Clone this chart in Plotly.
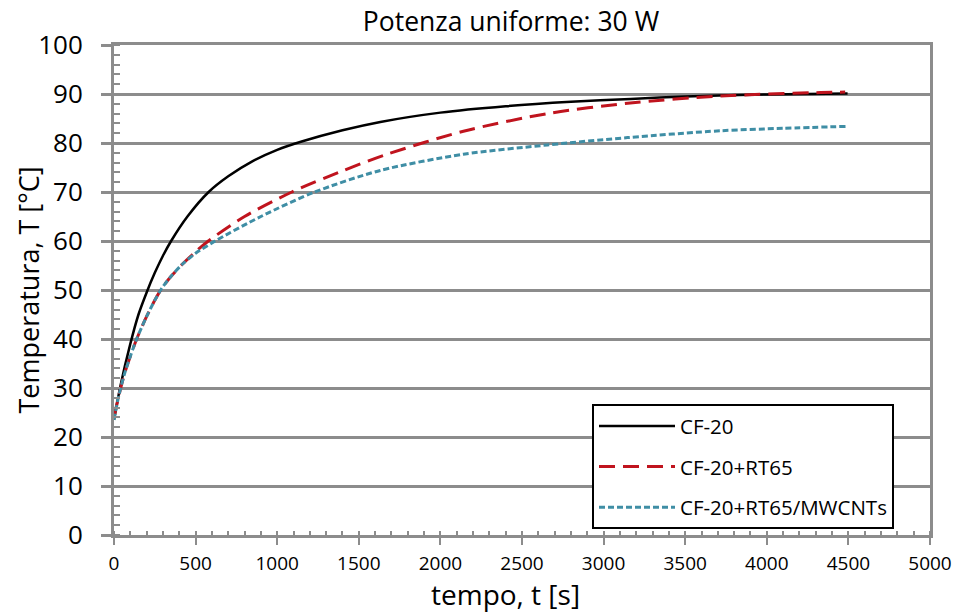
import plotly.graph_objects as go

# Heating curves under uniform 30 W power: time [s] vs temperature [°C]
t_cf20 = [0, 40, 100, 150, 200, 250, 300, 350, 450, 580, 700, 850, 1000,
          1150, 1400, 1632, 2000, 2400, 2800, 3166, 3500, 4000, 4495]
T_cf20 = [23.5, 30.5, 39.0, 45.0, 49.5, 53.5, 57.0, 60.0, 65.0, 70.0, 73.2,
          76.3, 78.6, 80.3, 82.6, 84.3, 86.2, 87.5, 88.4, 89.0, 89.5, 89.9,
          90.1]

t_rt65 = [0, 30, 70, 139, 200, 250, 292, 350, 420, 500, 578, 800, 1090,
          1400, 1663, 2141, 2656, 3147, 3718, 4331, 4480]
T_rt65 = [24.0, 28.5, 33.5, 40.0, 44.6, 47.9, 50.3, 52.8, 55.3, 57.8, 60.0,
          65.0, 70.0, 74.3, 77.6, 82.4, 86.0, 88.1, 89.6, 90.3, 90.4]

t_mwcnt = [0, 30, 70, 139, 200, 250, 292, 350, 420, 500, 620, 900, 1230,
           1632, 2141, 2656, 3147, 3718, 4100, 4495]
T_mwcnt = [23.5, 28.5, 33.5, 40.0, 44.6, 47.9, 50.3, 52.8, 55.3, 57.5, 60.0,
           65.0, 70.0, 74.4, 77.7, 79.6, 81.1, 82.5, 83.0, 83.4]

series_names = ["CF-20", "CF-20+RT65", "CF-20+RT65/MWCNTs"]
x_ticks = list(range(0, 5001, 500))
y_ticks = list(range(0, 101, 10))

GRID = "#8c8c8c"
FONT = "Open Sans"

fig = go.Figure()
fig.add_trace(go.Scatter(
    x=t_cf20, y=T_cf20, mode="lines", name=series_names[0], legendgroup="a",
    line=dict(color="black", width=2.5, shape="spline", smoothing=0.8)))
fig.add_trace(go.Scatter(
    x=t_rt65, y=T_rt65, mode="lines", name=series_names[1], legendgroup="b",
    line=dict(color="#c0141e", width=3, dash="16px,8px", shape="spline",
              smoothing=0.8)))
fig.add_trace(go.Scatter(
    x=t_mwcnt, y=T_mwcnt, mode="lines", name=series_names[2], legendgroup="c",
    line=dict(color="#3f8ea5", width=3, dash="6px,3px", shape="spline",
              smoothing=0.8)))

fig.update_layout(
    width=956, height=612,
    margin=dict(l=114, r=26, t=45, b=77, autoexpand=False),
    paper_bgcolor="white", plot_bgcolor="white",
    font=dict(family=FONT, color="black"),
    title=dict(text="Potenza uniforme: 30 W", x=0.5345, xref="container",
               xanchor="center", y=0.964, yref="container", yanchor="middle",
               font=dict(size=26.5, family=FONT, color="black")),
    showlegend=True,
    legend=dict(x=(592 - 114) / 816, y=0.012, xanchor="left", yanchor="bottom",
                bgcolor="white", bordercolor="black", borderwidth=2,
                font=dict(size=20.5, family=FONT, color="black"),
                tracegroupgap=11, itemwidth=76),
    annotations=[
        dict(text="Temperatura, T [°C]", xref="paper", yref="paper",
             x=-0.106, y=0.5, xanchor="center", yanchor="middle",
             textangle=-90, showarrow=False,
             font=dict(size=27, family=FONT, color="black")),
        dict(text="tempo, t [s]", xref="paper", yref="paper",
             x=(505 - 114) / 816, y=(535 - 594) / 490, xanchor="center",
             yanchor="middle", showarrow=False,
             font=dict(size=28, family=FONT, color="black")),
    ],
)

fig.update_xaxes(
    range=[0, 5000], tickvals=x_ticks, ticktext=[str(v) for v in x_ticks],
    showgrid=False, zeroline=False,
    showline=True, linecolor=GRID, linewidth=3, mirror=True,
    ticks="outside", ticklen=7, tickwidth=2, tickcolor=GRID,
    minor=dict(ticks="inside", dtick=100, ticklen=4, tickwidth=2, tickcolor=GRID),
    tickfont=dict(size=19, family=FONT, color="black"),
    ticklabelstandoff=2, ticklabeloverflow="allow",
)

fig.update_yaxes(
    range=[0, 100], tickvals=y_ticks, ticktext=[str(v) for v in y_ticks],
    showgrid=True, gridcolor=GRID, gridwidth=3, zeroline=False,
    showline=True, linecolor=GRID, linewidth=3, mirror=True,
    ticks="outside", ticklen=10, tickwidth=3, tickcolor=GRID,
    minor=dict(ticks="inside", dtick=2, ticklen=6, tickwidth=2, tickcolor=GRID,
               showgrid=False),
    tickfont=dict(size=26, family=FONT, color="black"),
    ticklabelstandoff=13,
)

fig.write_html("out.html")
